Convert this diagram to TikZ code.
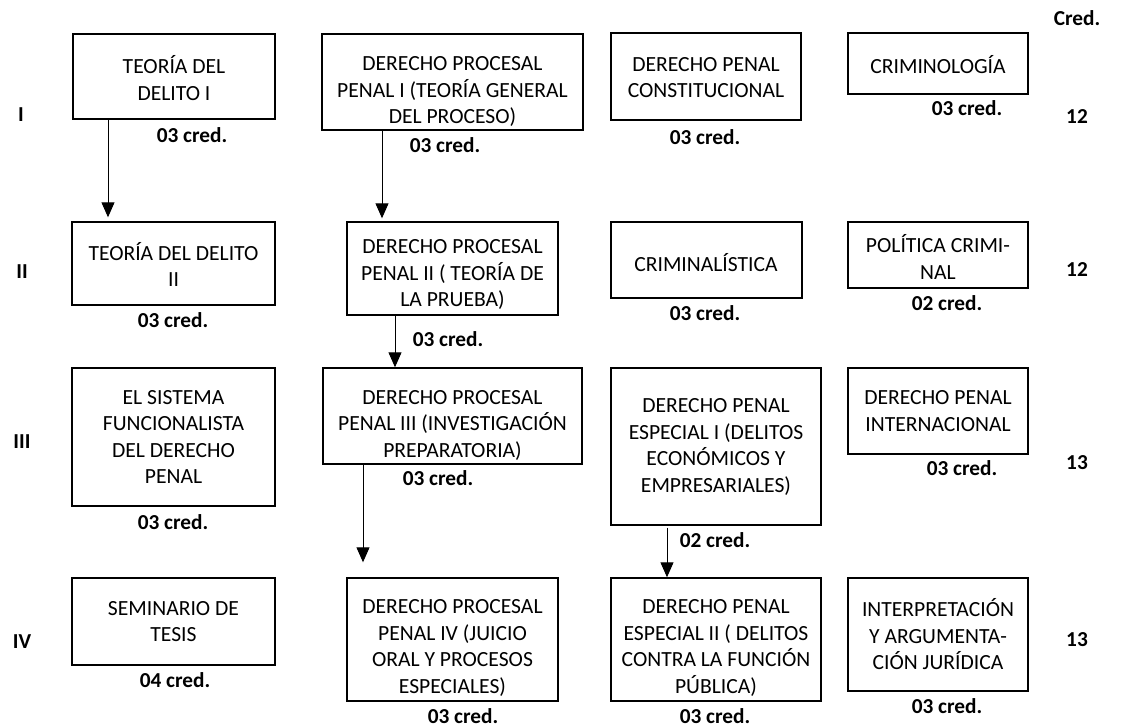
\documentclass[tikz,border=0pt]{standalone}
\usepackage{fontspec}
\setmainfont{Carlito}
\usetikzlibrary{arrows.meta}
\tikzset{
  box/.style={draw, line width=1.4pt, inner sep=0pt, anchor=center},
  txt/.style={align=center, inner sep=0pt, font=\fontsize{21.6}{26.5}\selectfont},
  cred/.style={inner sep=0pt, font=\fontsize{21.3}{26}\selectfont\bfseries},
  arr/.style={line width=1pt, -{Triangle[width=13pt,length=15pt]}}
}
\begin{document}
\begin{tikzpicture}[x=1pt,y=-1pt]
\useasboundingbox (0,0) rectangle (1133,727);
% boxes
\node[box, minimum width=202pt, minimum height=85pt] (td1) at (174,76.5) {};
\node[box, minimum width=261pt, minimum height=96pt] (dpp1) at (452.5,82) {};
\node[box, minimum width=190pt, minimum height=87pt] (dpc) at (706,76.5) {};
\node[box, minimum width=180pt, minimum height=61pt] (crim) at (938,63.5) {};
\node[box, minimum width=203pt, minimum height=83pt] (td2) at (173.5,263.5) {};
\node[box, minimum width=211pt, minimum height=93pt] (dpp2) at (452.5,268.5) {};
\node[box, minimum width=191pt, minimum height=76pt] (cri) at (706.5,260) {};
\node[box, minimum width=180pt, minimum height=66pt] (pol) at (938,255) {};
\node[box, minimum width=203pt, minimum height=138pt] (sf) at (173.5,437) {};
\node[box, minimum width=259pt, minimum height=96pt] (dpp3) at (452.5,416) {};
\node[box, minimum width=210pt, minimum height=157pt] (dpe1) at (716,446.5) {};
\node[box, minimum width=180pt, minimum height=86pt] (dpi) at (938,411) {};
\node[box, minimum width=203pt, minimum height=87pt] (sem) at (173.5,621.5) {};
\node[box, minimum width=211pt, minimum height=123pt] (dpp4) at (452.5,639.5) {};
\node[box, minimum width=210pt, minimum height=123pt] (dpe2) at (716,639.5) {};
\node[box, minimum width=180pt, minimum height=113pt] (iaj) at (938,634.5) {};
% texts
\node[txt] (td1t) at (174,78) {TEORÍA DEL\\DELITO I};
\node[txt] (dpp1t) at (452.5,91.5) {DERECHO PROCESAL\\PENAL I (TEORÍA GENERAL\\DEL PROCESO)};
\node[txt] (dpct) at (706,77.5) {DERECHO PENAL\\CONSTITUCIONAL};
\node[txt] (crimt) at (938,64.5) {CRIMINOLOGÍA};
\node[txt] (td2t) at (173.5,264.5) {TEORÍA DEL DELITO\\II};
\node[txt] (dpp2t) at (452.5,274.5) {DERECHO PROCESAL\\PENAL II ( TEORÍA DE\\LA PRUEBA)};
\node[txt] (crit) at (706,262.5) {CRIMINALÍSTICA};
\node[txt] (polt) at (938,257) {POLÍTICA CRIMI-\\NAL};
\node[txt] (sft) at (173.5,437) {EL SISTEMA\\FUNCIONALISTA\\DEL DERECHO\\PENAL};
\node[txt] (dpp3t) at (452.5,425) {DERECHO PROCESAL\\PENAL III (INVESTIGACIÓN\\PREPARATORIA)};
\node[txt] (dpe1t) at (716,447) {DERECHO PENAL\\ESPECIAL I (DELITOS\\ECONÓMICOS Y\\EMPRESARIALES)};
\node[txt] (dpit) at (938,411) {DERECHO PENAL\\INTERNACIONAL};
\node[txt] (semt) at (173.5,621.5) {SEMINARIO DE\\TESIS};
\node[txt] (dpp4t) at (452.5,648) {DERECHO PROCESAL\\PENAL IV (JUICIO\\ORAL Y PROCESOS\\ESPECIALES)};
\node[txt] (dpe2t) at (716,648) {DERECHO PENAL\\ESPECIAL II ( DELITOS\\CONTRA LA FUNCIÓN\\PÚBLICA)};
\node[txt] (iajt) at (938,634.5) {INTERPRETACIÓN\\Y ARGUMENTA-\\CIÓN JURÍDICA};
% credits
\node[cred] (c1) at (192,135) {03 cred.};
\node[cred] (c2) at (445,145) {03 cred.};
\node[cred] (c3) at (705,137) {03 cred.};
\node[cred] (c4) at (967,108) {03 cred.};
\node[cred] (c5) at (173,320) {03 cred.};
\node[cred] (c6) at (448,339) {03 cred.};
\node[cred] (c7) at (705,313) {03 cred.};
\node[cred] (c8) at (947,303) {02 cred.};
\node[cred] (c9) at (173,522) {03 cred.};
\node[cred] (c10) at (438,478) {03 cred.};
\node[cred] (c11) at (715,540) {02 cred.};
\node[cred] (c12) at (962,468) {03 cred.};
\node[cred] (c13) at (175,680) {04 cred.};
\node[cred] (c14) at (463,716) {03 cred.};
\node[cred] (c15) at (715,716) {03 cred.};
\node[cred] (c16) at (947,706) {03 cred.};
% right column
\node[cred] (hdr) at (1077,18) {Cred.};
\node[cred] (s1) at (1077,117) {12};
\node[cred] (s2) at (1077,270) {12};
\node[cred] (s3) at (1077,463) {13};
\node[cred] (s4) at (1077,640) {13};
% row labels
\node[cred] (r1) at (21,115) {I};
\node[cred] (r2) at (22,272) {II};
\node[cred] (r3) at (22,442) {III};
\node[cred] (r4) at (22,642) {IV};
% arrows
\draw[arr, shorten >=4pt] ([xshift=-66pt]td1.south) -- ([xshift=-65.5pt]td2.north);
\draw[arr, shorten >=3pt] ([xshift=-70.5pt]dpp1.south) -- ([xshift=-70.5pt]dpp2.north);
\draw[arr] ([xshift=-57.5pt]dpp2.south) -- ([xshift=-57.5pt]dpp3.north);
\draw[arr, shorten >=15pt] ([xshift=-89.5pt]dpp3.south) -- ([xshift=-89.5pt]dpp4.north);
\draw[arr, shorten <=2pt] ([xshift=-49pt]dpe1.south) -- ([xshift=-49pt]dpe2.north);
\end{tikzpicture}
\end{document}
